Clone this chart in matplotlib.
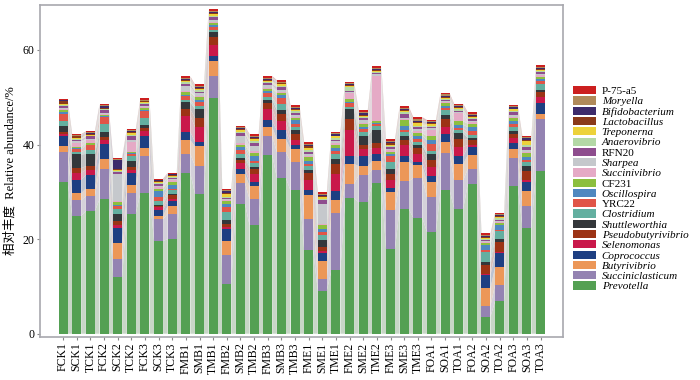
import numpy as np
import matplotlib
matplotlib.use("Agg")
import matplotlib.pyplot as plt
from matplotlib.patches import Patch
from matplotlib.colors import to_rgb

samples = ["FCK1","SCK1","TCK1","FCK2","SCK2","TCK2","FCK3","SCK3","TCK3",
           "FMB1","SMB1","TMB1","FMB2","SMB2","TMB2","FMB3","SMB3","TMB3",
           "FME1","SME1","TME1","FME2","SME2","TME2","FME3","SME3","TME3",
           "FOA1","SOA1","TOA1","FOA2","SOA2","TOA2","FOA3","SOA3","TOA3"]

prevotella = [32.1,24.9,25.9,28.4,12.0,25.4,29.8,19.6,20.0,33.9,29.5,49.9,10.6,27.5,22.9,37.8,32.9,30.3,
              17.7,9.1,13.4,28.6,27.8,31.9,18.0,26.4,24.5,21.5,30.4,26.4,31.7,3.6,6.9,31.2,22.4,34.4]
succiniclasticum = [6.3,3.3,3.2,6.5,3.7,4.3,7.7,4.6,5.4,4.1,5.9,4.5,6.0,4.4,5.5,3.9,5.5,6.1,
                    6.6,2.4,12.2,3.1,5.7,2.8,8.2,5.8,8.4,7.4,7.8,6.0,3.2,2.3,3.5,5.9,4.5,10.9]
butyrivibrio = [1.3,1.5,1.6,2.0,3.5,1.7,1.7,0.7,1.6,2.9,4.2,3.2,3.0,1.9,2.8,2.0,2.7,2.6,
                5.0,3.8,2.6,4.2,1.9,1.9,3.7,4.2,2.7,3.2,2.3,3.5,2.9,3.8,3.7,1.9,3.2,1.2]
coprococcus = [2.0,2.9,2.8,3.3,3.2,2.6,2.7,1.2,1.1,1.7,1.0,1.2,2.6,1.0,0.9,1.4,1.9,1.0,
               1.0,1.8,1.9,1.7,2.1,1.4,0.9,1.1,0.8,1.2,1.8,1.6,1.7,2.7,3.0,1.3,2.0,2.3]
selenomonas = [0.6,1.4,1.2,0.8,0.5,0.7,0.9,0.6,0.4,3.5,3.1,2.2,0.4,1.3,1.6,2.4,1.9,1.0,
               2.1,0.4,3.6,5.4,1.5,1.2,1.8,2.4,1.5,1.9,1.5,2.0,0.4,0.2,0.2,1.1,0.5,1.3]
pseudobutyrivibrio = [0.4,1.0,0.7,0.5,0.9,0.5,0.7,0.3,0.8,1.3,1.9,1.7,0.5,0.7,1.1,1.3,1.6,1.3,
                      1.6,0.9,2.2,2.4,0.8,1.1,1.2,1.1,1.3,1.6,1.6,1.7,1.1,1.9,2.0,0.9,1.7,1.1]
shuttleworthia = [1.2,2.9,2.6,1.1,1.6,1.4,0.7,0.3,0.3,1.5,1.9,1.0,0.9,0.4,0.4,0.7,0.8,0.7,
                  0.7,1.4,1.1,2.0,1.9,2.8,1.1,0.9,0.7,1.2,0.9,1.2,0.4,0.7,0.8,0.5,1.1,0.4]
clostridium = [1.0,0.5,0.9,1.8,1.0,0.9,1.4,0.7,0.7,0.6,0.6,0.6,1.7,0.8,0.9,0.5,1.2,0.7,
               0.7,1.0,1.0,0.5,0.9,0.9,1.4,0.7,0.6,0.7,0.9,0.6,0.7,2.1,1.6,0.9,1.0,1.2]
yrc22 = [1.6,0.6,0.9,1.4,0.7,0.5,1.4,1.0,0.4,0.7,0.8,0.6,1.1,0.9,0.5,0.9,1.4,0.7,
         0.5,0.7,0.7,0.8,0.6,0.4,1.3,0.4,0.7,1.5,0.5,0.5,0.7,0.4,0.3,0.7,0.4,0.7]
oscillospira = [0.3,0.3,0.2,0.2,0.2,0.2,0.3,1.1,0.7,0.3,0.6,0.3,0.7,0.6,0.9,0.4,0.5,0.7,
                0.7,0.6,0.6,0.3,0.4,0.2,0.4,1.0,0.7,0.8,0.5,0.7,0.9,1.0,1.0,0.5,0.5,0.3]
cf231 = [0.4,0.2,0.3,0.3,0.5,0.2,0.4,0.6,0.7,0.5,0.5,0.4,0.5,0.5,0.7,0.5,0.4,0.5,
         0.7,0.8,0.7,0.6,0.8,0.3,0.5,1.1,0.5,0.8,0.5,0.7,0.7,0.5,0.5,0.7,0.9,0.5]
succinivibrio = [0.3,0.9,0.7,0.2,0.2,2.1,0.3,0.3,0.3,0.3,0.2,0.3,0.2,0.3,0.4,0.2,0.3,0.3,
                 0.3,0.2,0.3,1.3,0.2,9.6,0.3,0.3,0.4,1.3,0.2,1.7,0.3,0.2,0.2,0.3,0.3,0.3]
sharpea = [0.2,0.3,0.2,0.2,5.8,0.4,0.2,0.3,0.3,1.0,0.6,0.4,0.2,1.6,1.0,0.5,0.4,0.4,
           0.4,4.4,0.4,0.3,0.5,0.3,0.3,0.3,0.5,0.4,0.2,0.3,0.3,0.2,0.2,0.3,0.3,0.2]
rfn20 = [0.4,0.3,0.5,0.5,0.4,0.9,0.3,0.3,0.2,0.5,0.4,0.6,0.3,0.5,0.7,0.4,0.6,0.4,
         0.5,0.7,0.3,0.2,0.5,0.3,0.3,0.8,0.4,0.3,0.3,0.2,0.3,0.2,0.2,0.6,0.7,0.5]
anaerovibrio = [0.3,0.2,0.2,0.2,0.2,0.3,0.2,0.2,0.2,0.4,0.3,0.3,0.2,0.3,0.4,0.3,0.3,0.3,
                0.4,0.3,0.4,0.7,0.3,0.2,0.3,0.3,0.3,0.2,0.2,0.4,0.3,0.2,0.3,0.3,0.4,0.2]
treponerna = [0.2,0.2,0.2,0.2,0.3,0.3,0.2,0.2,0.2,0.3,0.3,0.3,0.6,0.3,0.4,0.2,0.3,0.3,
              0.4,0.3,0.3,0.2,0.2,0.3,0.3,0.3,0.5,0.3,0.2,0.2,0.2,0.3,0.3,0.3,0.8,0.3]
lactobacillus = [0.6,0.3,0.2,0.2,0.2,0.2,0.2,0.3,0.2,0.2,0.2,0.2,0.3,0.2,0.2,0.2,0.2,0.2,
                 0.3,0.3,0.2,0.2,0.2,0.2,0.3,0.2,0.2,0.2,0.2,0.2,0.2,0.2,0.2,0.2,0.3,0.2]
bifidobacterium = [0.2,0.2,0.2,0.4,1.8,0.2,0.2,0.2,0.2,0.2,0.2,0.3,0.3,0.2,0.3,0.3,0.2,0.3,
                   0.3,0.3,0.3,0.3,0.3,0.2,0.3,0.2,0.3,0.2,0.2,0.2,0.3,0.2,0.2,0.3,0.3,0.2]
moryella = [0.1,0.1,0.1,0.1,0.2,0.2,0.2,0.1,0.1,0.2,0.2,0.3,0.2,0.2,0.3,0.2,0.2,0.2,
            0.3,0.2,0.2,0.2,0.2,0.2,0.2,0.2,0.3,0.2,0.4,0.2,0.2,0.2,0.2,0.2,0.2,0.2]
p75a5 = [0.2,0.2,0.2,0.2,0.3,0.3,0.3,0.2,0.2,0.3,0.3,0.3,0.3,0.3,0.3,0.4,0.3,0.3,
         0.4,0.3,0.3,0.3,0.4,0.3,0.3,0.4,0.5,0.3,0.3,0.3,0.3,0.3,0.3,0.3,0.3,0.3]

genera = ["Prevotella","Succiniclasticum","Butyrivibrio","Coprococcus","Selenomonas",
          "Pseudobutyrivibrio","Shuttleworthia","Clostridium","YRC22","Oscillospira",
          "CF231","Succinivibrio","Sharpea","RFN20","Anaerovibrio","Treponerna",
          "Lactobacillus","Bifidobacterium","Moryella","P-75-a5"]
series = [prevotella, succiniclasticum, butyrivibrio, coprococcus, selenomonas,
          pseudobutyrivibrio, shuttleworthia, clostridium, yrc22, oscillospira,
          cf231, succinivibrio, sharpea, rfn20, anaerovibrio, treponerna,
          lactobacillus, bifidobacterium, moryella, p75a5]
colors = ["#54A053","#9483B2","#EC9758","#1E3F82","#C9184A",
          "#9C3315","#34373B","#63AFA0","#E05548","#4F88C0",
          "#8CBF3F","#E5AAC6","#C5C8CC","#8E4D8E","#B4D8A6","#EDD23A",
          "#8B3A1A","#3D2B6B","#B08A5A","#CC1F1F"]
italic = [True,True,True,True,True,True,True,True,False,True,
          False,True,True,False,True,True,True,True,True,False]

fig = plt.figure(figsize=(7, 3.8), dpi=100)
ax = fig.add_axes([0.057, 0.113, 0.747, 0.874])

x = np.arange(len(samples))
w = 0.66
data = np.array(series)
bottoms = np.vstack([np.zeros(len(samples)), np.cumsum(data, axis=0)[:-1]])

for k in range(len(genera)):
    c = np.array(to_rgb(colors[k]))
    fc = 0.22 * c + 0.78 * np.array([0.88, 0.88, 0.88])
    for i in range(len(samples) - 1):
        x0 = x[i] + w / 2
        x1 = x[i + 1] - w / 2
        b0, t0 = bottoms[k, i], bottoms[k, i] + data[k, i]
        b1, t1 = bottoms[k, i + 1], bottoms[k, i + 1] + data[k, i + 1]
        ax.fill([x0, x1, x1, x0], [b0, b1, t1, t0], color=fc, lw=0, alpha=0.9, zorder=1)
    ax.bar(x, data[k], w, bottom=bottoms[k], color=colors[k], lw=0, zorder=2)

ax.set_xlim(-1.7, len(samples) - 1 + 1.63)
ax.set_ylim(-0.7, 69.5)
ax.set_yticks([0, 20, 40, 60])
ax.set_xticks(x)
ax.set_xticklabels(samples, rotation=90, family="Liberation Serif", fontsize=8.5)
for lab in ax.get_yticklabels():
    lab.set_family("Liberation Serif")
    lab.set_fontsize(8.5)
ax.tick_params(axis="both", length=2.5, width=0.8, color="#888888", pad=1.5)
for s in ax.spines.values():
    s.set_color("#A8A8AE")
    s.set_linewidth(1.2)

ax.set_ylabel("相对丰度  Relative abundance/%", family=["Liberation Serif", "Noto Sans CJK SC"],
              fontsize=9, labelpad=4)

handles = []
for k in range(len(genera) - 1, -1, -1):
    handles.append(Patch(facecolor=colors[k], edgecolor="none", label=genera[k]))
leg = fig.legend(handles=handles, loc="upper left", bbox_to_anchor=(0.812, 0.785),
                 frameon=False, prop={"family": "Liberation Serif", "size": 8},
                 handlelength=2.1, handleheight=0.75, labelspacing=0.03,
                 handletextpad=0.5, borderaxespad=0)
for t, kk in zip(leg.get_texts(), range(len(genera) - 1, -1, -1)):
    if italic[kk]:
        t.set_style("italic")

fig.savefig("out.png", dpi=100)
